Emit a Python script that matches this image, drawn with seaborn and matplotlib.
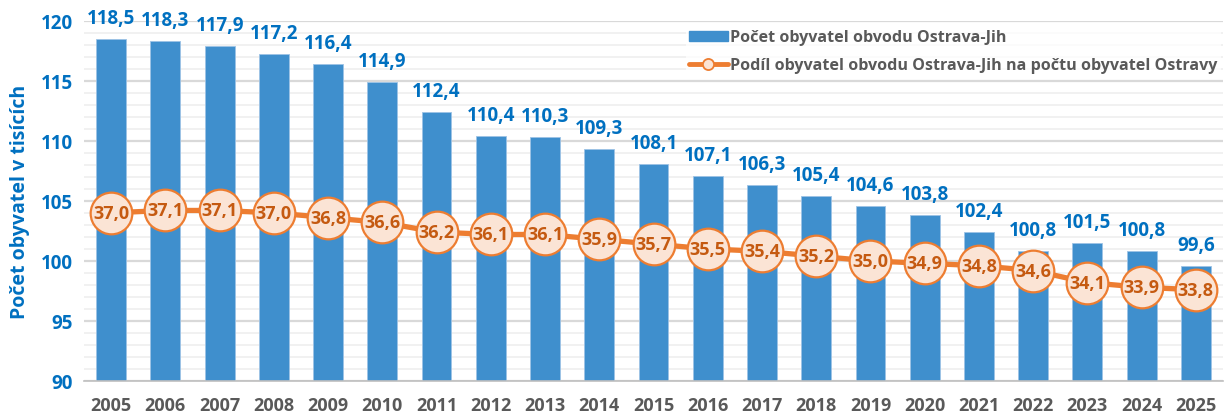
import numpy as np
import pandas as pd
import matplotlib
matplotlib.use("Agg")
import matplotlib.pyplot as plt
from matplotlib.lines import Line2D
from matplotlib.patches import Patch
from matplotlib.ticker import MultipleLocator
import seaborn as sns

years = [str(y) for y in range(2005, 2026)]
population = [118.5, 118.3, 117.9, 117.2, 116.4, 114.9, 112.4, 110.4, 110.3, 109.3,
              108.1, 107.1, 106.3, 105.4, 104.6, 103.8, 102.4, 100.8, 101.5, 100.8, 99.6]
share = [37.0, 37.1, 37.1, 37.0, 36.8, 36.6, 36.2, 36.1, 36.1, 35.9,
         35.7, 35.5, 35.4, 35.2, 35.0, 34.9, 34.8, 34.6, 34.1, 33.9, 33.8]
y_ticks = [90, 95, 100, 105, 110, 115, 120]
legend_labels = ["Počet obyvatel obvodu Ostrava-Jih",
                 "Podíl obyvatel obvodu Ostrava-Jih na počtu obyvatel Ostravy"]
y_label = "Počet obyvatel v tisících"

df = pd.DataFrame({"year": years, "pop": population, "share": share})

sns.set_theme(style="white")
plt.rcParams['font.family'] = ['Open Sans', 'DejaVu Sans']
plt.rcParams['font.weight'] = 'bold'

BAR = "#3F8FCD"
BLUE_TXT = "#0070C0"
ORANGE = "#ED7D31"
MARK_FILL = "#FBE4D5"
PCT_TXT = "#C55A11"
GRAY_TXT = "#595959"

fig = plt.figure(figsize=(12.27, 4.14), dpi=100)
ax = fig.add_axes([0.0685, 0.0773, 0.9282, 0.8703])

sns.barplot(data=df, x="year", y="pop", color=BAR, width=0.55, ax=ax,
            saturation=1, edgecolor="#9DC3E6", linewidth=0.6)
ax.set_ylim(90, 120)
ax.set_xlim(-0.5, len(years) - 0.5)
ax.set_yticks(y_ticks)
ax.yaxis.set_minor_locator(MultipleLocator(1))
ax.set_axisbelow(True)
ax.grid(which='major', axis='y', color="#D9D9D9", linewidth=1.6)
ax.grid(which='minor', axis='y', color="#EFEFEF", linewidth=1.2)
ax.grid(which='both', axis='x', visible=False)
for s in ["top", "right", "left"]:
    ax.spines[s].set_visible(False)
ax.spines["bottom"].set_color("#BFBFBF")
ax.spines["bottom"].set_linewidth(1.2)
ax.set_xticks(np.arange(-0.5, len(years), 1), minor=True)
ax.tick_params(axis='x', which='major', length=0, pad=11, labelsize=13, labelcolor=GRAY_TXT)
ax.tick_params(axis='x', which='minor', length=5, width=1.2, color="#BFBFBF")
ax.tick_params(axis='y', which='both', length=0, pad=8, labelsize=13.5, labelcolor=BLUE_TXT)
for lab in ax.get_xticklabels() + ax.get_yticklabels():
    lab.set_fontweight('bold')
ax.set_xlabel("")
ax.set_ylabel(y_label, color=BLUE_TXT, fontsize=14, fontweight='bold', labelpad=8)

ax.bar_label(ax.containers[0], labels=[f"{v:.1f}".replace(".", ",") for v in population],
             padding=8, color=BLUE_TXT, fontsize=13.5, fontweight='bold', clip_on=False)

ax2 = ax.twinx()
sns.pointplot(data=df, x="year", y="share", ax=ax2, color=ORANGE, markers="o",
              linestyles="-", linewidth=3.8, markersize=30, markerfacecolor=MARK_FILL,
              markeredgecolor=ORANGE, markeredgewidth=1.6, errorbar=None)
ax2.set_ylim(30, 45)
ax2.set_xlim(-0.5, len(years) - 0.5)
ax2.set_yticks([])
ax2.set_ylabel("")
for s in ax2.spines.values():
    s.set_visible(False)
for i, v in enumerate(share):
    ax2.text(i, v, f"{v:.1f}".replace(".", ","), ha="center", va="center",
             color=PCT_TXT, fontsize=13, fontweight='bold', zorder=10)

handles = [Patch(facecolor=BAR, edgecolor=BAR),
           Line2D([0], [0], color=ORANGE, linewidth=3.5, marker="o", markersize=8,
                  markerfacecolor=MARK_FILL, markeredgecolor=ORANGE, markeredgewidth=1.3)]
leg = ax2.legend(handles, legend_labels, loc="upper right", bbox_to_anchor=(0.998, 0.985),
                 frameon=True, fontsize=11.6, handlelength=2.4, handleheight=0.6,
                 handletextpad=0.15, borderaxespad=0.0, labelspacing=0.75, borderpad=0.2)
leg.get_frame().set_facecolor("white")
leg.get_frame().set_edgecolor("none")
leg.get_frame().set_alpha(0.75)
for t in leg.get_texts():
    t.set_color(GRAY_TXT)
    t.set_fontweight('bold')

fig.savefig("out.png", dpi=100)
